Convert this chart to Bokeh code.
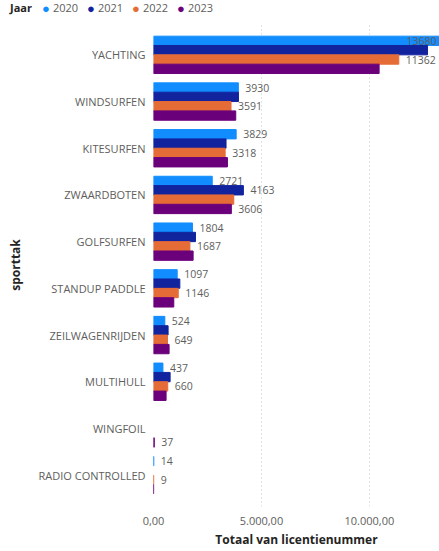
from bokeh.plotting import figure
from bokeh.models import FactorRange, Range1d, ColumnDataSource, FixedTicker, Div
from bokeh.layouts import column
from bokeh.transform import dodge
from bokeh.embed import file_html
from bokeh.resources import INLINE
from bokeh.core.properties import value

# ---------------- data ----------------
categories = ["YACHTING", "WINDSURFEN", "KITESURFEN", "ZWAARDBOTEN", "GOLFSURFEN",
              "STANDUP PADDLE", "ZEILWAGENRIJDEN", "MULTIHULL", "WINGFOIL", "RADIO CONTROLLED"]
years = ["2020", "2021", "2022", "2023"]
v2020 = [13680, 3930, 3829, 2721, 1804, 1097, 524, 437, None, 14]
v2021 = [12690, 3935, 3360, 4163, 1945, 1220, 676, 770, None, None]
v2022 = [11362, 3591, 3318, 3718, 1687, 1146, 649, 660, None, 9]
v2023 = [10450, 3810, 3425, 3606, 1835, 940, 722, 583, 37, 6]
series = {"2020": v2020, "2021": v2021, "2022": v2022, "2023": v2023}
colors = {"2020": "#118DFF", "2021": "#12239E", "2022": "#E66C37", "2023": "#6B007B"}
# data labels that are displayed (category, year)
labelled = [("YACHTING", "2020"), ("YACHTING", "2022"),
            ("WINDSURFEN", "2020"), ("WINDSURFEN", "2022"),
            ("KITESURFEN", "2020"), ("KITESURFEN", "2022"),
            ("ZWAARDBOTEN", "2020"), ("ZWAARDBOTEN", "2021"), ("ZWAARDBOTEN", "2023"),
            ("GOLFSURFEN", "2020"), ("GOLFSURFEN", "2022"),
            ("STANDUP PADDLE", "2020"), ("STANDUP PADDLE", "2022"),
            ("ZEILWAGENRIJDEN", "2020"), ("ZEILWAGENRIJDEN", "2022"),
            ("MULTIHULL", "2020"), ("MULTIHULL", "2022"),
            ("WINGFOIL", "2023"),
            ("RADIO CONTROLLED", "2020"), ("RADIO CONTROLLED", "2022")]
x_ticks = [0, 5000, 10000]
x_tick_labels = ["0,00", "5.000,00", "10.000,00"]
x_title = "Totaal van licentienummer"
y_title = "sporttak"
legend_title = "Jaar"

FONT = "Open Sans"
GREY = "#605E5C"
DARK = "#252423"
X_END = 13247

W, H = 439, 551
LEG_H = 16
ML, MT, MB = 153, 7, 45

# ---------------- legend strip (HTML) ----------------
span = 'position:absolute;top:0;height:{h}px;line-height:{h}px;'.format(h=LEG_H)
parts = [f'<span style="{span}left:10px;font-weight:bold;color:{DARK}">{legend_title}</span>']
for i, yr in enumerate(years):
    x0 = 42 + 45 * i
    parts.append(f'<span style="{span}left:{x0}px;font-size:13px;color:{colors[yr]}">\u25CF</span>')
    parts.append(f'<span style="{span}left:{x0 + 11}px;color:{GREY}">{yr}</span>')
leg_html = (f'<div style="position:relative;width:{W}px;height:{LEG_H}px;overflow:visible;'
            f'font-family:\'{FONT}\';font-size:11px;white-space:nowrap">'
            + "".join(parts) + "</div>")
leg = Div(text=leg_html, width=W, height=LEG_H, margin=0)

# ---------------- main chart ----------------
p = figure(width=W, height=H - LEG_H, output_backend="svg", toolbar_location=None,
           y_range=FactorRange(factors=categories[::-1], range_padding=0.171,
                               range_padding_units="absolute"),
           x_range=Range1d(0, X_END), margin=0,
           min_border_left=ML, min_border_right=0, min_border_top=MT, min_border_bottom=MB)
p.outline_line_color = None
p.background_fill_color = "white"
p.border_fill_color = "white"

offsets = {"2020": 0.3, "2021": 0.1, "2022": -0.1, "2023": -0.3}
for yr in years:
    vals = [float("nan") if v is None else v for v in series[yr]]
    src = ColumnDataSource(dict(cat=categories, val=vals))
    p.hbar(y=dodge("cat", offsets[yr], range=p.y_range), left=0, right="val", height=0.2,
           source=src, fill_color=colors[yr], line_color=colors[yr], line_width=1)

    lc, lx, lt, la, lo = [], [], [], [], []
    for c, v in zip(categories, series[yr]):
        if (c, yr) in labelled and v is not None:
            inside = v > 0.95 * X_END
            lc.append(c); lx.append(min(v, X_END)); lt.append(str(v))
            la.append("right" if inside else "left")
            lo.append(-3 if inside else 7)
    lsrc = ColumnDataSource(dict(cat=lc, x=lx, t=lt, a=la, o=lo))
    p.text(x="x", y=dodge("cat", offsets[yr], range=p.y_range), text="t", source=lsrc,
           text_align="a", x_offset="o", text_baseline="middle",
           text_font=value(FONT), text_font_size="10.5px", text_color=GREY)

# grid
p.ygrid.grid_line_color = None
p.xgrid.ticker = FixedTicker(ticks=x_ticks)
p.xgrid.grid_line_color = "#C8C6C4"
p.xgrid.grid_line_dash = "1 3"
p.xgrid.grid_line_width = 1

# x axis
xa = p.xaxis[0]
xa.ticker = FixedTicker(ticks=x_ticks)
xa.major_label_overrides = {t: l for t, l in zip(x_ticks, x_tick_labels)}
xa.axis_line_color = None
xa.major_tick_line_color = None
xa.minor_tick_line_color = None
xa.major_tick_out = 0
xa.major_label_standoff = 10
xa.major_label_text_font = FONT
xa.major_label_text_font_size = "11px"
xa.major_label_text_color = GREY
xa.axis_label = x_title
xa.axis_label_text_font = FONT
xa.axis_label_text_font_size = "12px"
xa.axis_label_text_font_style = "bold"
xa.axis_label_text_color = DARK
xa.axis_label_standoff = 3

# y axis
ya = p.yaxis[0]
ya.axis_line_color = None
ya.major_tick_line_color = None
ya.minor_tick_line_color = None
ya.major_tick_out = 0
ya.major_label_standoff = 8
ya.major_label_text_font = FONT
ya.major_label_text_font_size = "11px"
ya.major_label_text_color = GREY
ya.axis_label = y_title
ya.axis_label_text_font = FONT
ya.axis_label_text_font_size = "12px"
ya.axis_label_text_font_style = "bold"
ya.axis_label_text_color = DARK
ya.axis_label_standoff = 12

layout = column(leg, p, spacing=0, margin=0)
open("out.html", "w").write(file_html(layout, INLINE))
